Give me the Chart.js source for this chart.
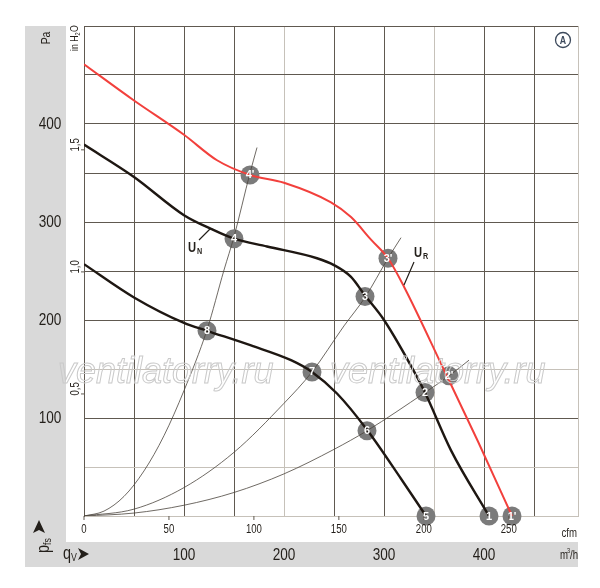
<!DOCTYPE html>
<html>
<head>
<meta charset="utf-8">
<script src="https://cdn.jsdelivr.net/npm/chart.js@4.4.1/dist/chart.umd.min.js"></script>
<style>body{margin:0;background:#fff}</style>
</head>
<body>
<canvas id="fanChart" width="600" height="588"></canvas>
<script>
// fan curves: [m3/h, Pa]
var redCurve = [[0,461],[50,424],[100,389],[133,363],[166,348],[200,340],[247,320],[267,305],[287,282],[304,263],[320,234],[360,149],[394,76],[428,0]];
var curveUN = [[0,379],[50,346],[100,307],[127,293],[150,283],[183,275],[233,263],[250,256],[267,244],[281,225],[300,200],[333,142],[341,126],[367,67],[405,0]];
var curveLow = [[0,257],[50,223],[100,197],[123,189],[167,174],[207,159],[228,147],[253,125],[283,88],[317,38],[342,0]];
// system curves
var sysA = [[0,0],[20,5],[40,20],[60,46],[80,82],[100,128],[123,190],[140,251],[150,285],[166,350],[173,376]];
var sysB = [[0,0],[50,7],[100,29],[150,65],[200,115],[228,147],[260,194],[281,223],[304,263],[317,284]];
var sysC = [[0,0],[50,3],[100,11],[150,24],[200,43],[250,68],[283,87],[341,126],[365,143],[385,159]];
// operating points
var pointNames = ["1","2","3","4","5","6","7","8","1'","2'","3'","4'"];
var pointValues = [[405,0],[341,126],[281,224],[150,283],[342,0],[283,87],[228,147],[123,189],[428,0],[365,143],[304,263],[166,348]];
// tick labels
var paTicks = [100,200,300,400];
var m3hTicks = [100,200,300,400];
var cfmTicks = [0,50,100,150,200,250];
var inH2OTicks = [0.5,1.0,1.5];
var CFM_TO_M3H = 1.699;
var PA_PER_INH2O = 249.09;
// grid lines printed lighter in the original sheet
var lightGridX = [200, 350];
var lightGridY = [0, 50, 150];

function xy(arr) {
    return arr.map(function (p) { return {x: p[0], y: p[1]}; });
}

var gridColor = '#605950';
var lightGrid = '#c6c1b9';
var textColor = '#231f1a';

function lineSet(arr, color, width) {
    return {
        type: 'line',
        data: xy(arr),
        borderColor: color,
        borderWidth: width,
        pointRadius: 0,
        fill: false,
        cubicInterpolationMode: 'monotone'
    };
}

// condensed text: Liberation Sans squeezed horizontally
function narrowText(c, text, x, y, size, align, weight) {
    c.save();
    c.translate(x, y);
    c.scale(0.8, 1);
    c.font = (weight || '') + ' ' + size + 'px "Liberation Sans", sans-serif';
    c.textAlign = align || 'center';
    c.fillText(text, 0, 0);
    c.restore();
}

var decor = {
    id: 'decor',
    beforeDraw: function (chart) {
        var c = chart.ctx;
        c.save();
        c.fillStyle = '#ffffff';
        c.fillRect(0, 0, chart.width, chart.height);
        c.fillStyle = '#d9d9d9';
        c.fillRect(25, 26, 41, 541);
        c.fillRect(25, 542, 553, 25);
        c.restore();
    },
    afterDatasetsDraw: function (chart) {
        var c = chart.ctx;
        var xs = chart.scales.x, ys = chart.scales.y;
        var area = chart.chartArea;
        c.save();
        c.textBaseline = 'middle';

        // watermark
        c.font = 'italic 36px "Liberation Sans", sans-serif';
        c.strokeStyle = '#cacaca';
        c.lineWidth = 1;
        c.textAlign = 'left';
        c.strokeText('ventilatorry.ru', 58, 373);
        c.strokeText('ventilatorry.ru', 330, 373);

        // marker numbers
        var meta = chart.getDatasetMeta(chart.data.datasets.length - 1);
        c.fillStyle = '#ffffff';
        c.font = 'bold 11px "Liberation Sans", sans-serif';
        c.textAlign = 'center';
        meta.data.forEach(function (el, i) {
            c.fillText(pointNames[i], el.x, el.y + 0.5);
        });

        c.fillStyle = textColor;
        // Pa labels
        paTicks.forEach(function (v) {
            narrowText(c, String(v), 50, ys.getPixelForValue(v), 17);
        });
        // m3/h labels
        m3hTicks.forEach(function (v) {
            narrowText(c, String(v), xs.getPixelForValue(v), 555, 17);
        });
        // cfm labels and ticks
        c.strokeStyle = gridColor;
        c.lineWidth = 1;
        cfmTicks.forEach(function (v) {
            var px = xs.getPixelForValue(v * CFM_TO_M3H);
            narrowText(c, String(v), px, 530, 12);
            c.beginPath();
            c.moveTo(px, area.bottom);
            c.lineTo(px, area.bottom + 4);
            c.stroke();
        });
        narrowText(c, 'cfm', 577, 534, 12, 'right');
        // m3/h unit
        narrowText(c, 'm', 560, 556, 12, 'left');
        narrowText(c, '/h', 570, 556, 12, 'left');
        narrowText(c, '3', 567, 551, 7, 'left');

        // q_V arrow
        narrowText(c, 'q', 63, 554, 18, 'left');
        narrowText(c, 'V', 71, 558, 11, 'left');
        c.beginPath();
        c.moveTo(78, 548); c.lineTo(89, 554); c.lineTo(78, 560); c.lineTo(81, 554);
        c.closePath(); c.fill();

        // rotated texts
        function rot(x, y, fn) {
            c.save();
            c.translate(x, y);
            c.rotate(-Math.PI / 2);
            fn();
            c.restore();
        }
        rot(46, 38, function () {
            narrowText(c, 'Pa', 0, 0, 13);
        });
        rot(44, 553, function () {
            narrowText(c, 'p', 0, 0, 18, 'left');
            narrowText(c, 'fs', 8, 4, 11, 'left');
            c.beginPath();
            c.moveTo(20, -11); c.lineTo(33, -5); c.lineTo(20, 1); c.lineTo(23, -5);
            c.closePath(); c.fill();
        });
        rot(75, 39, function () {
            narrowText(c, 'in H', -12, 0, 11, 'left');
            narrowText(c, '2', 3.5, 3, 7, 'left');
            narrowText(c, 'O', 7, 0, 11, 'left');
        });
        inH2OTicks.forEach(function (v) {
            var py = ys.getPixelForValue(v * PA_PER_INH2O);
            rot(76, py - 5, function () {
                narrowText(c, v.toFixed(1).replace('.', ','), 0, 0, 12);
            });
            c.beginPath();
            c.moveTo(area.left - 3, py);
            c.lineTo(area.left, py);
            c.stroke();
        });

        // curve labels
        narrowText(c, 'U', 188, 248, 14, 'left', 'bold');
        narrowText(c, 'U', 414, 253, 14, 'left', 'bold');
        narrowText(c, 'N', 197, 252, 9, 'left', 'bold');
        narrowText(c, 'R', 423, 257, 9, 'left', 'bold');
        c.strokeStyle = textColor;
        c.lineWidth = 1.2;
        c.beginPath();
        c.moveTo(199, 240); c.lineTo(210, 229);
        c.moveTo(414, 262); c.lineTo(404, 285);
        c.stroke();

        // A badge
        c.strokeStyle = '#3d4a5c';
        c.lineWidth = 1.3;
        c.beginPath();
        c.arc(563, 40, 7.5, 0, Math.PI * 2);
        c.stroke();
        c.fillStyle = '#3d4a5c';
        narrowText(c, 'A', 563, 40.5, 11, 'center', 'bold');

        c.restore();
    }
};

var ctx = document.getElementById('fanChart');
var fanChart = new Chart(ctx, {
    type: 'scatter',
    data: {
        datasets: [
            lineSet(sysA, '#4a443c', 0.8),
            lineSet(sysB, '#4a443c', 0.8),
            lineSet(sysC, '#4a443c', 0.8),
            lineSet(curveLow, '#1e1712', 2.4),
            lineSet(curveUN, '#1e1712', 2.4),
            lineSet(redCurve, '#f2403c', 2),
            {
                type: 'scatter',
                data: xy(pointValues),
                clip: false,
                pointRadius: 9.5,
                pointHoverRadius: 9.5,
                backgroundColor: '#7b7b7b',
                borderColor: '#7b7b7b',
                borderWidth: 0
            }
        ]
    },
    options: {
        responsive: false,
        animation: false,
        events: [],
        layout: {padding: {left: 84, right: 22, top: 26, bottom: 72}},
        plugins: {legend: {display: false}, tooltip: {enabled: false}},
        scales: {
            x: {
                type: 'linear', min: 0, max: 494,
                ticks: {display: false, stepSize: 50},
                grid: {
                    drawTicks: false,
                    color: function (c) {
                        if (!c.tick) return gridColor;
                        return (c.tick.value > 480 || lightGridX.indexOf(c.tick.value) >= 0) ? lightGrid : gridColor;
                    }
                },
                border: {color: lightGrid}
            },
            y: {
                type: 'linear', min: 0, max: 500,
                ticks: {display: false, stepSize: 50},
                grid: {
                    drawTicks: false,
                    color: function (c) {
                        if (!c.tick) return gridColor;
                        return lightGridY.indexOf(c.tick.value) >= 0 ? lightGrid : gridColor;
                    }
                },
                border: {color: gridColor}
            }
        }
    },
    plugins: [decor]
});
</script>
</body>
</html>
